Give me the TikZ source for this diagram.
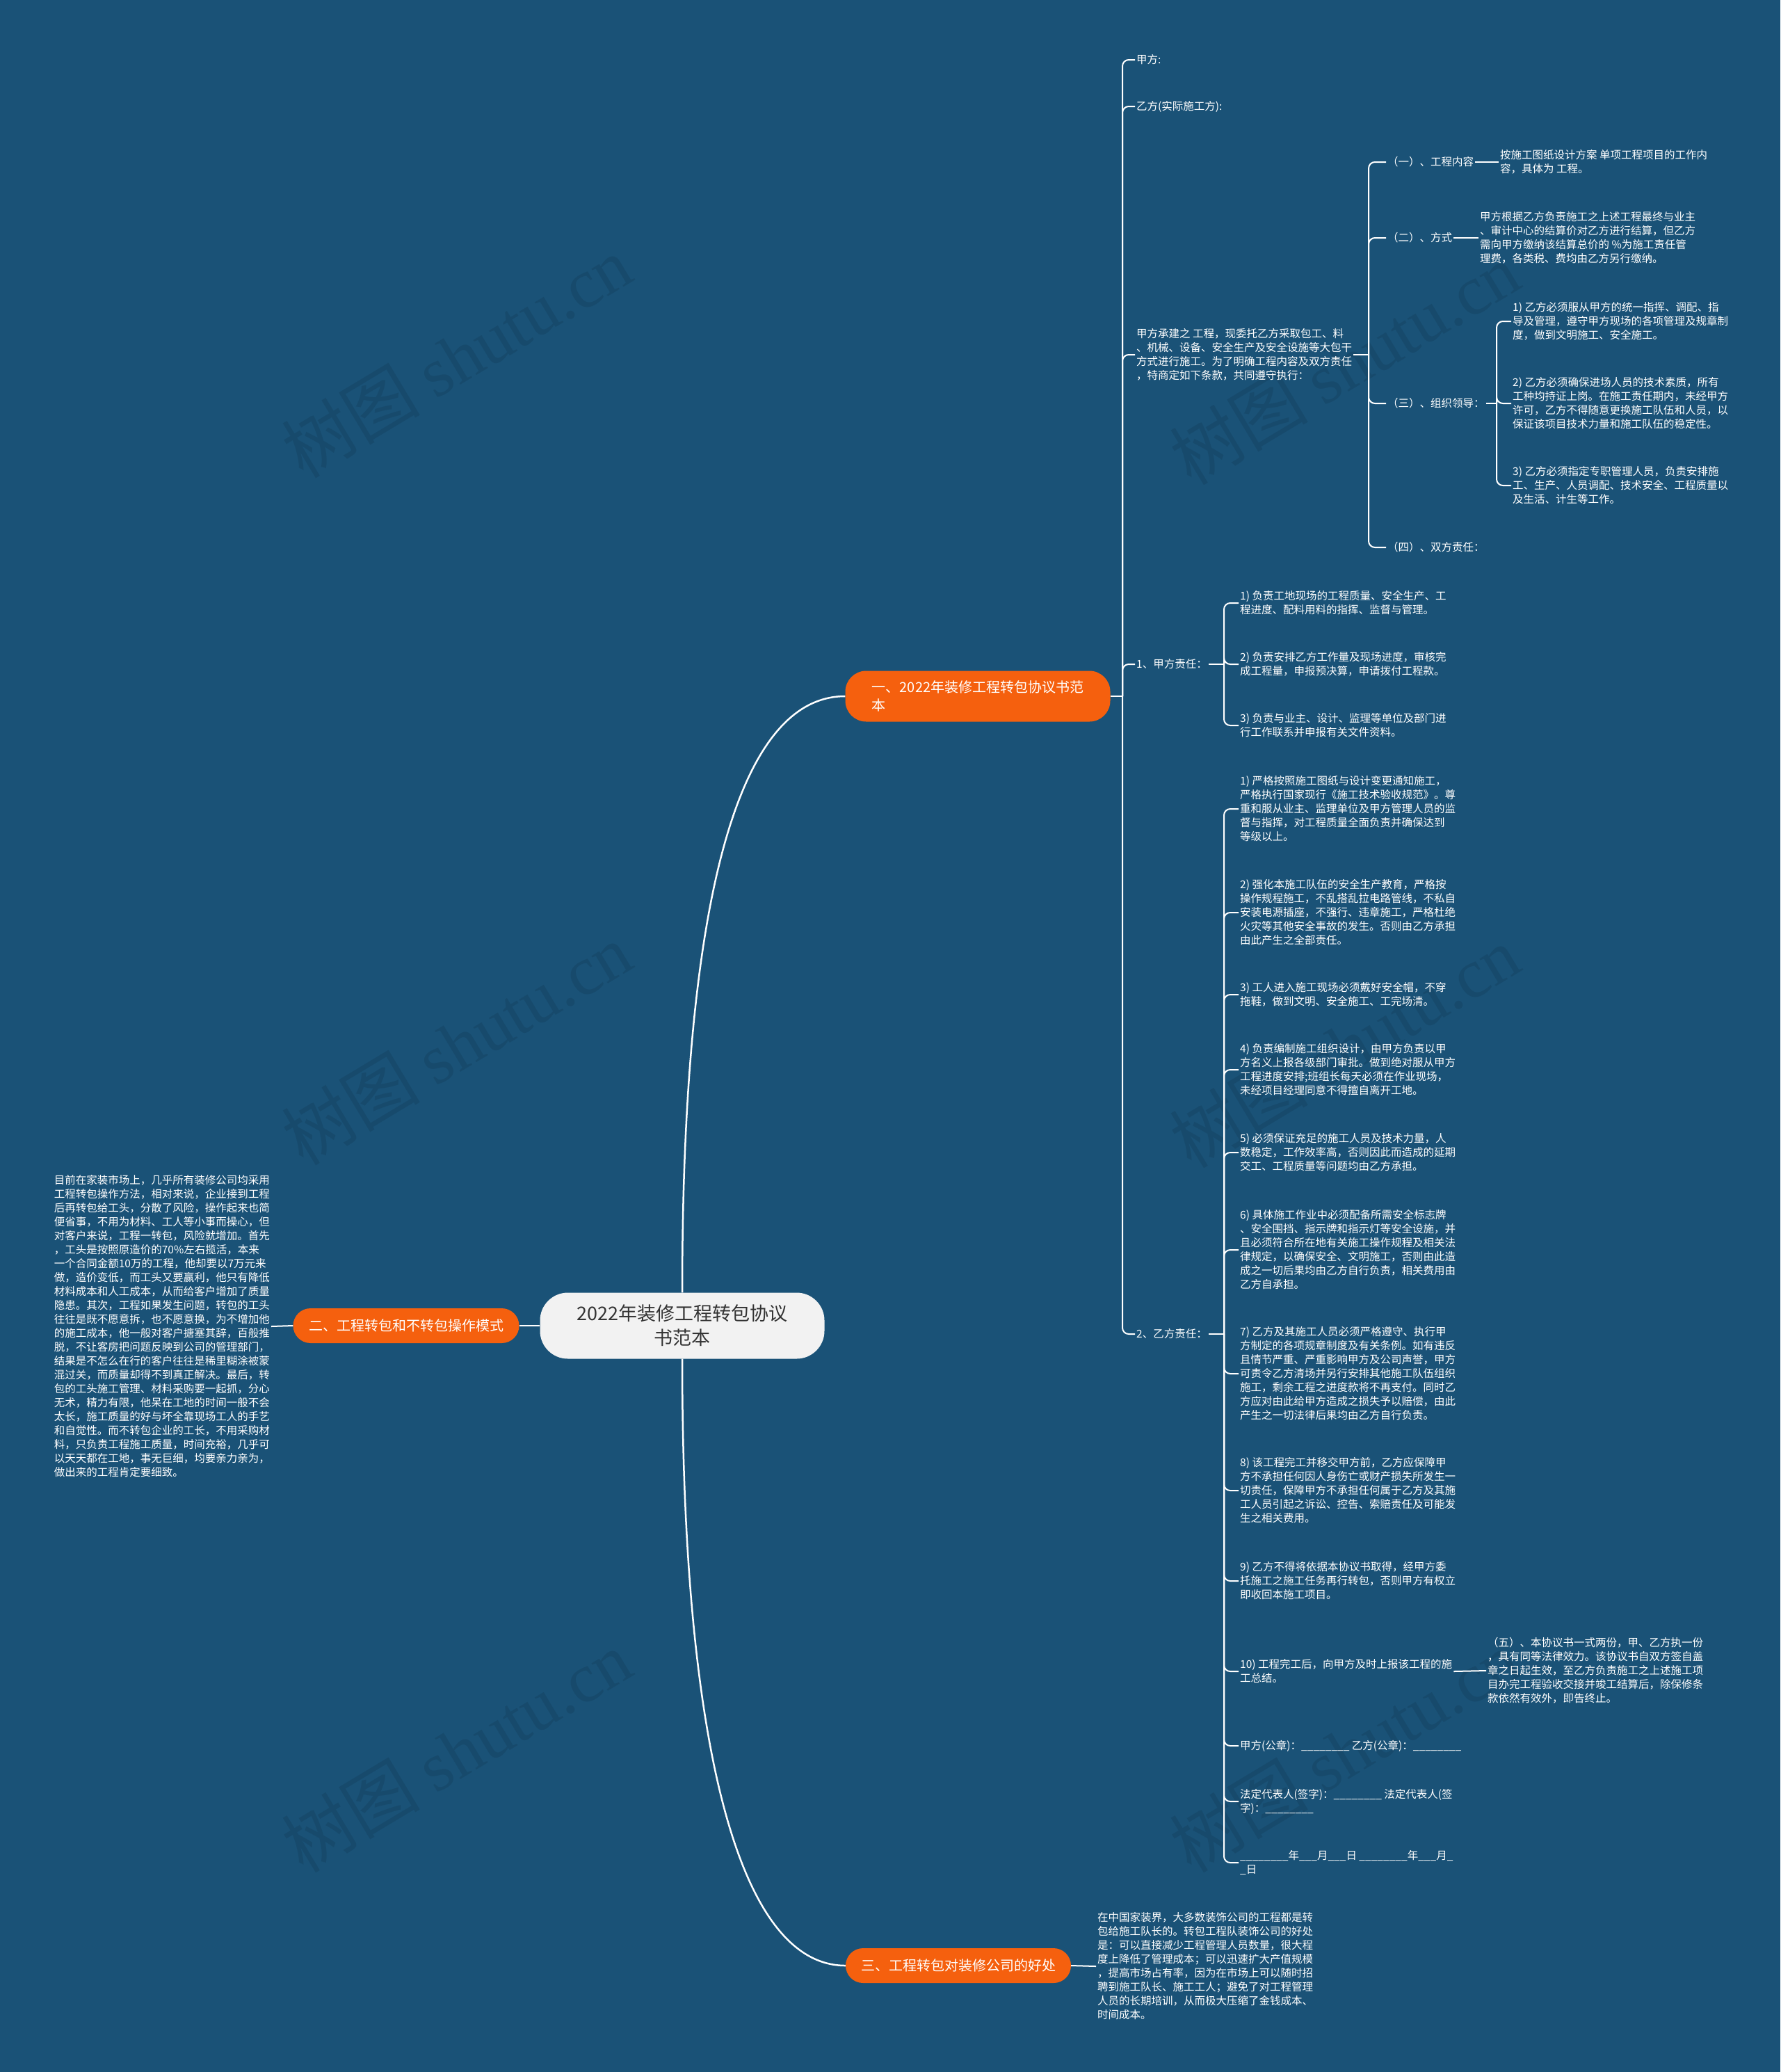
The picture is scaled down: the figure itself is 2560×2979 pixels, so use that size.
\documentclass[tikz,border=0pt]{standalone}
\usepackage{fontspec}
\setmainfont{Noto Sans CJK SC}
\newfontfamily\wmfont{Liberation Serif}
\usepackage{tikz}

\definecolor{bgblue}{HTML}{1A5277}
\definecolor{topicorange}{HTML}{F5600E}
\definecolor{rootgray}{HTML}{F2F2F2}
\definecolor{wmblue}{HTML}{174A6C}

\newcommand{\signline}{\_\_\_\_\_\_\_\_}

\tikzset{
  root/.style={fill=rootgray, text=black!80, rounded corners=40pt, minimum width=409pt, minimum height=95pt, align=center, font=\fontsize{27}{35}\selectfont},
  topic/.style={fill=topicorange, text=white, rounded corners=25pt, minimum height=50pt, align=left, font=\fontsize{20}{26}\selectfont},
  leaf/.style={text=white, anchor=west, align=left, inner sep=2pt, font=\fontsize{15.5}{20}\selectfont},
  link/.style={draw=white, line width=2pt},
  trunk/.style={draw=white, line width=2.5pt},
  curl/.style={link, rounded corners=9pt, to path={|- (\tikztotarget)}},
  wmark/.style={text=wmblue, rotate=31, font=\fontsize{100}{100}\selectfont}
}

\begin{document}
\begin{tikzpicture}[x=1pt, y=-1pt]
                        \fill[bgblue] (0,0) rectangle (2560,2979);
                        \useasboundingbox (0,0) rectangle (2560,2979);

                        % watermarks
                        \node[wmark] (wm1) at (656,513) {树图 {\wmfont shutu.cn}};
                        \node[wmark] (wm2) at (656,1501) {树图 {\wmfont shutu.cn}};
                        \node[wmark] (wm3) at (656,2518) {树图 {\wmfont shutu.cn}};
                        \node[wmark] (wm4) at (1933,523) {树图 {\wmfont shutu.cn}};
                        \node[wmark] (wm5) at (1933,1505) {树图 {\wmfont shutu.cn}};
                        \node[wmark] (wm6) at (1933,2518) {树图 {\wmfont shutu.cn}};

                        % root and main topics
                        \node[root] (root) at (981,1906) {2022年装修工程转包协议\\书范本};
                        \node[topic] (b1) at (1406,1001) [minimum width=381pt, minimum height=73pt, rounded corners=30pt] {一、2022年装修工程转包协议书范\\本};
                        \node[topic] (b2) at (584,1906) [minimum width=325pt] {二、工程转包和不转包操作模式};
                        \node[topic] (b3) at (1378,2826) [minimum width=324pt] {三、工程转包对装修公司的好处};

                        % left text
                        \node[leaf] (mode) at (390,1907) [anchor=east] {目前在家装市场上，几乎所有装修公司均采用\\工程转包操作方法，相对来说，企业接到工程\\后再转包给工头，分散了风险，操作起来也简\\便省事，不用为材料、工人等小事而操心，但\\对客户来说，工程一转包，风险就增加。首先\\，工头是按照原造价的70\%左右揽活，本来\\一个合同金额10万的工程，他却要以7万元来\\做，造价变低，而工头又要赢利，他只有降低\\材料成本和人工成本，从而给客户增加了质量\\隐患。其次，工程如果发生问题，转包的工头\\往往是既不愿意拆，也不愿意换，为不增加他\\的施工成本，他一般对客户搪塞其辞，百般推\\脱，不让客房把问题反映到公司的管理部门，\\结果是不怎么在行的客户往往是稀里糊涂被蒙\\混过关，而质量却得不到真正解决。最后，转\\包的工头施工管理、材料采购要一起抓，分心\\无术，精力有限，他呆在工地的时间一般不会\\太长，施工质量的好与坏全靠现场工人的手艺\\和自觉性。而不转包企业的工长，不用采购材\\料，只负责工程施工质量，时间充裕，几乎可\\以天天都在工地，事无巨细，均要亲力亲为，\\做出来的工程肯定要细致。};

                        % bottom text
                        \node[leaf] (gain) at (1576,2827) {在中国家装界，大多数装饰公司的工程都是转\\包给施工队长的。转包工程队装饰公司的好处\\是：可以直接减少工程管理人员数量，很大程\\度上降低了管理成本；可以迅速扩大产值规模\\，提高市场占有率，因为在市场上可以随时招\\聘到施工队长、施工工人；避免了对工程管理\\人员的长期培训，从而极大压缩了金钱成本、\\时间成本。};

                        % branch one
                        \node[leaf] (jia) at (1632,86) {甲方:};
                        \node[leaf] (yi) at (1632,153) {乙方(实际施工方):};
                        \node[leaf] (intro) at (1632,510) {甲方承建之 工程，现委托乙方采取包工、料\\、机械、设备、安全生产及安全设施等大包干\\方式进行施工。为了明确工程内容及双方责任\\，特商定如下条款，共同遵守执行：};
                        \node[leaf] (jiaduty) at (1632,955) {1、甲方责任：};
                        \node[leaf] (yiduty) at (1632,1918) {2、乙方责任：};

                        \node[leaf] (s1) at (1993,233) {（一）、工程内容};
                        \node[leaf] (s1a) at (2155,233) {按施工图纸设计方案 单项工程项目的工作内\\容，具体为 工程。};
                        \node[leaf] (s2) at (1993,342) {（二）、方式};
                        \node[leaf] (s2a) at (2126,342) {甲方根据乙方负责施工之上述工程最终与业主\\、审计中心的结算价对乙方进行结算，但乙方\\需向甲方缴纳该结算总价的 \%为施工责任管\\理费，各类税、费均由乙方另行缴纳。};
                        \node[leaf] (s3) at (1993,580) {（三）、组织领导：};
                        \node[leaf] (s3a) at (2173,462) {1) 乙方必须服从甲方的统一指挥、调配、指\\导及管理，遵守甲方现场的各项管理及规章制\\度，做到文明施工、安全施工。};
                        \node[leaf] (s3b) at (2173,580) {2) 乙方必须确保进场人员的技术素质，所有\\工种均持证上岗。在施工责任期内，未经甲方\\许可，乙方不得随意更换施工队伍和人员，以\\保证该项目技术力量和施工队伍的稳定性。};
                        \node[leaf] (s3c) at (2173,698) {3) 乙方必须指定专职管理人员，负责安排施\\工、生产、人员调配、技术安全、工程质量以\\及生活、计生等工作。};
                        \node[leaf] (s4) at (1993,787) {（四）、双方责任：};

                        \node[leaf] (j1) at (1781,867) {1) 负责工地现场的工程质量、安全生产、工\\程进度、配料用料的指挥、监督与管理。};
                        \node[leaf] (j2) at (1781,955) {2) 负责安排乙方工作量及现场进度，审核完\\成工程量，申报预决算，申请拨付工程款。};
                        \node[leaf] (j3) at (1781,1043) {3) 负责与业主、设计、监理等单位及部门进\\行工作联系并申报有关文件资料。};

                        \node[leaf] (y1) at (1781,1163) {1) 严格按照施工图纸与设计变更通知施工，\\严格执行国家现行《施工技术验收规范》。尊\\重和服从业主、监理单位及甲方管理人员的监\\督与指挥，对工程质量全面负责并确保达到\\等级以上。};
                        \node[leaf] (y2) at (1781,1312) {2) 强化本施工队伍的安全生产教育，严格按\\操作规程施工，不乱搭乱拉电路管线，不私自\\安装电源插座，不强行、违章施工，严格杜绝\\火灾等其他安全事故的发生。否则由乙方承担\\由此产生之全部责任。};
                        \node[leaf] (y3) at (1781,1430) {3) 工人进入施工现场必须戴好安全帽，不穿\\拖鞋，做到文明、安全施工、工完场清。};
                        \node[leaf] (y4) at (1781,1538) {4) 负责编制施工组织设计，由甲方负责以甲\\方名义上报各级部门审批。做到绝对服从甲方\\工程进度安排;班组长每天必须在作业现场，\\未经项目经理同意不得擅自离开工地。};
                        \node[leaf] (y5) at (1781,1657) {5) 必须保证充足的施工人员及技术力量，人\\数稳定，工作效率高，否则因此而造成的延期\\交工、工程质量等问题均由乙方承担。};
                        \node[leaf] (y6) at (1781,1797) {6) 具体施工作业中必须配备所需安全标志牌\\、安全围挡、指示牌和指示灯等安全设施，并\\且必须符合所在地有关施工操作规程及相关法\\律规定，以确保安全、文明施工，否则由此造\\成之一切后果均由乙方自行负责，相关费用由\\乙方自承担。};
                        \node[leaf] (y7) at (1781,1975) {7) 乙方及其施工人员必须严格遵守、执行甲\\方制定的各项规章制度及有关条例。如有违反\\且情节严重、严重影响甲方及公司声誉，甲方\\可责令乙方清场并另行安排其他施工队伍组织\\施工，剩余工程之进度款将不再支付。同时乙\\方应对由此给甲方造成之损失予以赔偿，由此\\产生之一切法律后果均由乙方自行负责。};
                        \node[leaf] (y8) at (1781,2143) {8) 该工程完工并移交甲方前，乙方应保障甲\\方不承担任何因人身伤亡或财产损失所发生一\\切责任，保障甲方不承担任何属于乙方及其施\\工人员引起之诉讼、控告、索赔责任及可能发\\生之相关费用。};
                        \node[leaf] (y9) at (1781,2273) {9) 乙方不得将依据本协议书取得，经甲方委\\托施工之施工任务再行转包，否则甲方有权立\\即收回本施工项目。};
                        \node[leaf] (y10) at (1781,2403) {10) 工程完工后，向甲方及时上报该工程的施\\工总结。};
                        \node[leaf] (y10a) at (2137,2402) {（五）、本协议书一式两份，甲、乙方执一份\\，具有同等法律效力。该协议书自双方签自盖\\章之日起生效，至乙方负责施工之上述施工项\\目办完工程验收交接并竣工结算后，除保修条\\款依然有效外，即告终止。};
                        \node[leaf] (y11) at (1781,2510) {甲方(公章)：\signline{} 乙方(公章)：\signline};
                        \node[leaf] (y12) at (1781,2590) {法定代表人(签字)：\signline{} 法定代表人(签\\字)：\signline};
                        \node[leaf] (y13) at (1781,2678) {\signline 年\_\_\_月\_\_\_日 \signline 年\_\_\_月\_\\\_日};

                        % connectors
                        \draw[trunk] (root.north) .. controls (981,1300) and (1060,1001) .. (b1.west);
                        \draw[trunk] (root.south) .. controls (981,2500) and (1060,2826) .. (b3.west);
                        \draw[trunk] (root.west) -- (b2.east);
                        \draw[link] (b2.west) -- (mode.east);
                        \draw[link] (b3.east) -- (gain.west);

                        \coordinate (b1j) at (1614,1001);
                        \draw[link] (b1.east) -- (b1j);
                        \path[curl] (b1j) edge (jia.west) edge (yi.west) edge (intro.west)
                        edge (jiaduty.west) edge (yiduty.west);

                        \coordinate (introj) at (1968,510);
                        \draw[link] (intro.east) -- (introj);
                        \path[curl] (introj) edge (s1.west) edge (s2.west) edge (s3.west) edge (s4.west);
                        \draw[link] (s1.east) -- (s1a.west);
                        \draw[link] (s2.east) -- (s2a.west);

                        \coordinate (s3j) at (2152,580);
                        \draw[link] (s3.east) -- (s3j);
                        \path[curl] (s3j) edge (s3a.west) edge (s3b.west) edge (s3c.west);

                        \coordinate (jdj) at (1760,955);
                        \draw[link] (jiaduty.east) -- (jdj);
                        \path[curl] (jdj) edge (j1.west) edge (j2.west) edge (j3.west);

                        \coordinate (ydj) at (1760,1918);
                        \draw[link] (yiduty.east) -- (ydj);
                        \path[curl] (ydj) edge (y1.west) edge (y2.west) edge (y3.west) edge (y4.west)
                        edge (y5.west) edge (y6.west) edge (y7.west) edge (y8.west) edge (y9.west)
                        edge (y10.west) edge (y11.west) edge (y12.west) edge (y13.west);
                        \draw[link] (y10.east) -- (y10a.west);
                    \end{tikzpicture}
\end{document}
